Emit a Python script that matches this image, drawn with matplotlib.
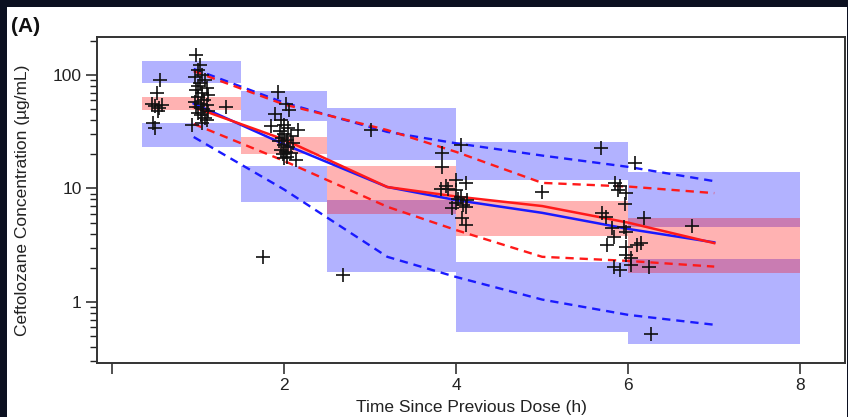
import matplotlib
matplotlib.use("Agg")
import matplotlib.pyplot as plt
from matplotlib.patches import Rectangle
from matplotlib.ticker import FixedLocator, NullFormatter

plt.rcParams['font.family'] = ['Liberation Sans', 'DejaVu Sans']

# bins of the VPC (time, h)
bin_lo = [0.35, 1.5, 2.5, 4.0, 6.0]
bin_hi = [1.5, 2.5, 4.0, 6.0, 8.0]
# 95% CI of predicted percentiles per bin
p95_ci_lo = [85, 39, 17.8, 11.9, 4.6]
p95_ci_hi = [133, 72, 51, 25.7, 14.0]
p50_ci_lo = [49, 20.1, 5.96, 3.81, 1.8]
p50_ci_hi = [64, 28.4, 15.8, 7.76, 5.5]
p05_ci_lo = [23.2, 7.6, 1.84, 0.544, 0.427]
p05_ci_hi = [37.8, 15.8, 7.9, 2.25, 2.39]

# percentile lines
line_t = [0.95, 2.0, 3.2, 4.0, 5.0, 6.0, 7.0]
obs_p50 = [52, 27, 10.3, 8.5, 7.0, 5.0, 3.3]
pred_p50 = [56, 24.5, 10.3, 7.9, 6.1, 4.4, 3.35]
obs_p95 = [108, 55, 32.7, 21, 11.2, 10.4, 9.1]
pred_p95 = [113, 57, 31.5, 25, 19.5, 15.5, 11.6]
obs_p05 = [37, 17.5, 6.9, 4.3, 2.5, 2.3, 2.05]
pred_p05 = [28.4, 9.8, 2.5, 1.66, 1.05, 0.77, 0.63]

# observed concentrations
obs_time = [0.56, 0.52, 0.47, 0.50, 0.55, 0.58, 0.48, 0.50, 0.53,
            0.98, 1.02, 1.00, 1.05, 0.97, 1.08, 1.02, 1.00, 1.10, 0.98,
            1.05, 1.12, 1.00, 1.07, 0.96, 1.03, 1.10, 0.98, 1.06, 1.12,
            1.00, 1.04, 1.08, 1.10, 1.05, 0.93, 1.33,
            1.93, 2.02, 1.89, 2.06, 1.85, 2.16, 1.97, 2.00, 2.05, 1.95,
            2.00, 2.08, 1.98, 2.03, 1.94, 2.10, 2.00, 2.05, 1.96, 2.02,
            2.08, 1.99, 2.04, 2.14, 2.00, 1.75,
            2.68, 3.01,
            4.06, 3.84, 3.84, 4.00, 4.12, 3.83, 3.90, 4.00, 4.06, 4.13,
            3.95, 4.00, 4.12, 4.07, 4.12, 3.88, 4.02, 4.08,
            5.00,
            5.68, 6.08, 5.85, 5.88, 5.97, 5.96, 5.69, 5.74, 6.18, 5.81,
            5.83, 5.75, 5.97, 5.97, 6.10, 6.15, 5.97, 6.03, 6.03, 6.24,
            5.83, 5.90, 6.27, 6.74, 5.90, 5.95]
obs_conc = [90, 70, 56, 53, 51, 54, 38, 34, 48,
            150, 122, 110, 100, 95, 90, 85, 80, 76, 73,
            70, 66, 64, 60, 58, 56, 54, 52, 50, 48,
            46, 44, 42, 40, 38, 36, 52,
            71, 55, 45, 49, 35.5, 32.6, 40, 36, 34, 32,
            30, 29, 28, 27, 26, 25, 24, 23, 22, 21,
            20.5, 20, 19, 17.8, 18.5, 2.5,
            1.73, 32.7,
            24, 20.5, 15.5, 11.9, 11.2, 9.9, 9.8, 9.7, 8.4, 7.9,
            6.7, 7.4, 6.9, 5.5, 4.8, 10.5, 8.0, 7.2,
            9.3,
            22.7, 16.7, 11.2, 9.7, 9.1, 7.3, 6.1, 5.6, 5.5, 4.5,
            3.74, 3.18, 4.14, 3.05, 3.18, 3.3, 2.6, 2.44, 2.1, 2.03,
            2.03, 1.9, 0.52, 4.67, 10.5, 4.6]

W, H = 848, 417
fig = plt.figure(figsize=(W / 100, H / 100), dpi=100, facecolor='#0b1020')
# white panel of the screenshot
bg = Rectangle((7 / W, 0), 840 / W, 410 / H, transform=fig.transFigure,
               facecolor='white', edgecolor='none', zorder=-10)
fig.add_artist(bg)

ax = fig.add_axes([97 / W, 54 / H, 748 / W, 326 / H])
ax.set_zorder(1)
ax.set_yscale('log')

blue_box = (0, 0, 1, 0.3)
red_box = (1, 0, 0, 0.3)
for i in range(len(bin_lo)):
    xs = [bin_lo[i], bin_hi[i]]
    ax.fill_between(xs, p95_ci_lo[i], p95_ci_hi[i], color=blue_box, lw=0, zorder=1)
    ax.fill_between(xs, p05_ci_lo[i], p05_ci_hi[i], color=blue_box, lw=0, zorder=1)
for i in range(len(bin_lo)):
    xs = [bin_lo[i], bin_hi[i]]
    ax.fill_between(xs, p50_ci_lo[i], p50_ci_hi[i], color=red_box, lw=0, zorder=1.5)

dash = (3.5, 2.5)
ax.plot(line_t, pred_p95, color='#1a1aff', lw=1.7, dashes=dash, zorder=2)
ax.plot(line_t, pred_p05, color='#1a1aff', lw=1.7, dashes=dash, zorder=2)
ax.plot(line_t, obs_p95, color='#ff1a1a', lw=1.7, dashes=dash, zorder=2.1)
ax.plot(line_t, obs_p05, color='#ff1a1a', lw=1.7, dashes=dash, zorder=2.1)
ax.plot(line_t, pred_p50, color='#1a1aff', lw=1.8, zorder=3)
ax.plot(line_t, obs_p50, color='#ff1a1a', lw=1.8, zorder=3.1)

ax.plot(obs_time, obs_conc, ls='none', marker='+', ms=10, mew=1.2, color='#111111', zorder=4)

ax.set_xlim(-0.174, 8.52)
ax.set_ylim(0.29, 216)

ax.set_xticks([0, 2, 4, 6, 8])
ax.set_xticklabels(['', '2', '4', '6', '8'])
ax.yaxis.set_major_locator(FixedLocator([1, 10, 100]))
ax.set_yticklabels(['1', '10', '100'])
minors = [0.3, 0.4, 0.5, 0.6, 0.7, 0.8, 0.9] + [m for m in range(2, 10)] + \
         [m * 10 for m in range(2, 10)] + [200]
ax.yaxis.set_minor_locator(FixedLocator(minors))
ax.yaxis.set_minor_formatter(NullFormatter())

ax.tick_params(axis='both', which='major', direction='out', length=8, width=1.1,
               labelsize=12.5, colors='#222222', pad=3)
ax.tick_params(axis='y', which='minor', direction='out', length=5, width=1.0, colors='#222222')
for s in ax.spines.values():
    s.set_color('#333333')
    s.set_linewidth(1.4)

ax.set_xlabel('Time Since Previous Dose (h)', fontsize=12.5, color='#222222', labelpad=5)
ax.set_ylabel('Ceftolozane Concentration (µg/mL)', fontsize=12.5, color='#222222', labelpad=16)
fig.text(11 / W, 1 - 26 / H, '(A)', fontsize=15, fontweight='bold', color='#111111',
         va='center', ha='left')

fig.savefig('out.png', dpi=100, facecolor=fig.get_facecolor())
